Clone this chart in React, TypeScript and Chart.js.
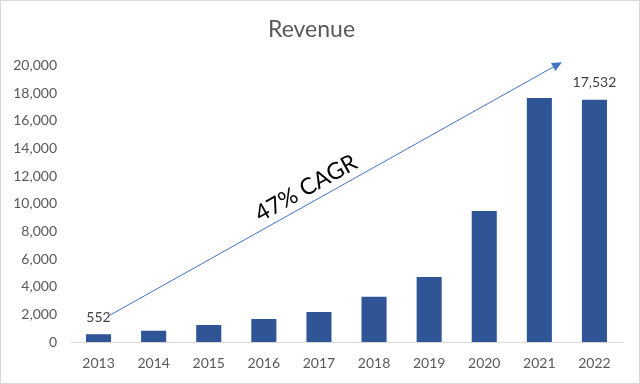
import React, { useEffect, useRef } from "react";
import { Chart, registerables } from "chart.js";

Chart.register(...registerables);

const years = ["2013", "2014", "2015", "2016", "2017", "2018", "2019", "2020", "2021", "2022"];
const revenue = [552, 820, 1230, 1670, 2170, 3280, 4710, 9470, 17660, 17532];
const labeledIndexes = [0, 9];
const yTicks = [0, 2000, 4000, 6000, 8000, 10000, 12000, 14000, 16000, 18000, 20000];
const arrowStart = { index: 0.21, value: 1950 };
const arrowEnd = { index: 8.41, value: 20250 };
const arrowText = "47% CAGR";
const arrowTextAt = 0.45;

const FONT = "Lato, 'Open Sans', sans-serif";
const GRAY = "#595959";

const overlay = {
  id: "overlay",
  afterDatasetsDraw(chart: any) {
    const ctx = chart.ctx;
    const xs = chart.scales.x;
    const ys = chart.scales.y;
    const meta = chart.getDatasetMeta(0);
    // value labels
    ctx.save();
    ctx.font = `14px ${FONT}`;
    ctx.fillStyle = "#404040";
    ctx.textAlign = "center";
    ctx.textBaseline = "middle";
    labeledIndexes.forEach((i) => {
      const el = meta.data[i];
      ctx.fillText(revenue[i].toLocaleString("en-US"), el.x, el.y - 17);
    });
    ctx.restore();

    // arrow
    const x1 = xs.getPixelForValue(arrowStart.index);
    const y1 = ys.getPixelForValue(arrowStart.value);
    const x2 = xs.getPixelForValue(arrowEnd.index);
    const y2 = ys.getPixelForValue(arrowEnd.value);
    const ang = Math.atan2(y2 - y1, x2 - x1);
    ctx.save();
    ctx.strokeStyle = "#4472c4";
    ctx.fillStyle = "#4472c4";
    ctx.lineWidth = 1;
    const head = 10;
    ctx.beginPath();
    ctx.moveTo(x1, y1);
    ctx.lineTo(x2 - Math.cos(ang) * head * 0.8, y2 - Math.sin(ang) * head * 0.8);
    ctx.stroke();
    ctx.beginPath();
    ctx.moveTo(x2, y2);
    ctx.lineTo(x2 - head * Math.cos(ang) + 4.5 * Math.sin(ang), y2 - head * Math.sin(ang) - 4.5 * Math.cos(ang));
    ctx.lineTo(x2 - head * Math.cos(ang) - 4.5 * Math.sin(ang), y2 - head * Math.sin(ang) + 4.5 * Math.cos(ang));
    ctx.closePath();
    ctx.fill();

    // text along the arrow
    const tx = x1 + (x2 - x1) * arrowTextAt;
    const ty = y1 + (y2 - y1) * arrowTextAt;
    ctx.translate(tx, ty);
    ctx.rotate(ang);
    ctx.font = `23px ${FONT}`;
    ctx.fillStyle = "#000000";
    ctx.textAlign = "center";
    ctx.textBaseline = "middle";
    ctx.fillText(arrowText, 0, -15);
    ctx.restore();
  },
};

export default function App() {
  const ref = useRef<HTMLCanvasElement>(null);
  useEffect(() => {
    if (!ref.current) return;
    const chart = new Chart(ref.current, {
      type: "bar",
      data: {
        labels: years,
        datasets: [
          {
            data: revenue,
            backgroundColor: "#2f5597",
            barPercentage: 0.91,
            categoryPercentage: 0.5,
          },
        ],
      },
      options: {
        animation: false,
        responsive: false,
        layout: { padding: { left: 0, right: 17, top: 0, bottom: 0 } },
        plugins: {
          legend: { display: false },
          tooltip: { enabled: false },
          title: {
            display: true,
            text: "Revenue",
            color: GRAY,
            font: { family: FONT, size: 23, weight: "normal" },
            padding: { top: 15, bottom: 22 },
          },
        },
        scales: {
          x: {
            grid: { display: false, drawTicks: false },
            border: { display: true, color: "#d9d9d9" },
            ticks: { color: GRAY, font: { family: FONT, size: 14 }, padding: 13 },
            afterFit: (s: any) => {
              s.height = 41;
            },
          },
          y: {
            min: 0,
            max: 20000,
            grid: { display: false, drawTicks: false },
            border: { display: false },
            afterBuildTicks: (s: any) => {
              s.ticks = yTicks.map((v) => ({ value: v }));
            },
            ticks: {
              color: GRAY,
              font: { family: FONT, size: 14 },
              padding: 14,
              callback: (v: any) => Number(v).toLocaleString("en-US"),
            },
            afterFit: (s: any) => {
              s.width = 70;
            },
          },
        },
      },
      plugins: [overlay],
    });
    return () => chart.destroy();
  }, []);
  return (
    <div
      style={{
        position: "absolute",
        left: 0,
        top: 0,
        width: 640,
        height: 384,
        boxSizing: "border-box",
        border: "1px solid #d9d9d9",
        background: "#fff",
      }}
    >
      <canvas ref={ref} width={638} height={382} style={{ display: "block" }} />
    </div>
  );
}
